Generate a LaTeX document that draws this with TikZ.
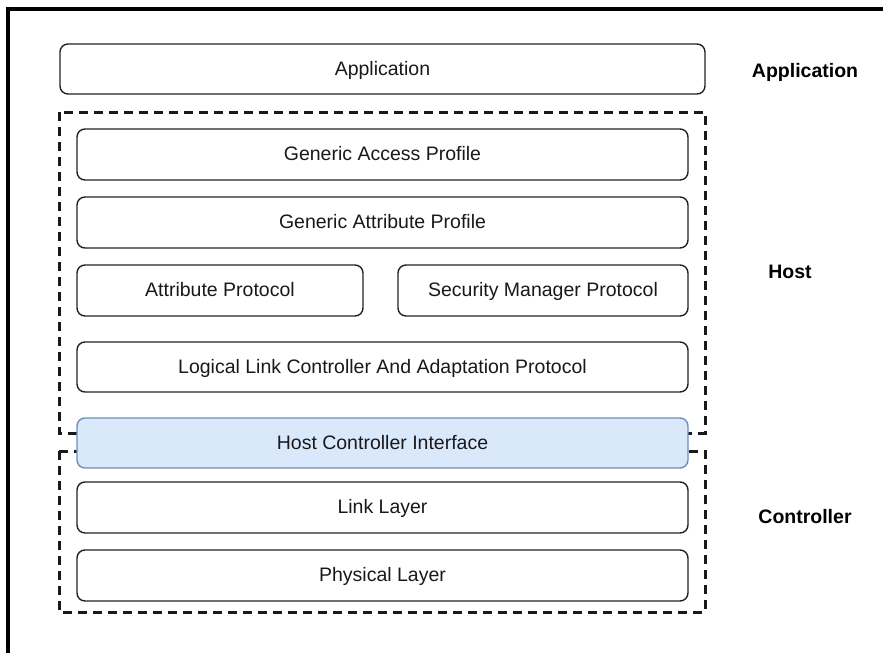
\documentclass[tikz,border=0pt]{standalone}
\usepackage{fontspec}
\setmainfont{Liberation Sans}
\definecolor{hcifill}{HTML}{DAE8FC}
\definecolor{hciline}{HTML}{6C8EBF}
\definecolor{boxline}{HTML}{222222}
\begin{document}
\begin{tikzpicture}[x=1pt,y=-1pt,
  layer/.style={draw=boxline,line width=1.4pt,rounded corners=8pt,inner sep=0pt,
    font=\fontsize{19.5}{23}\selectfont,text=black!90,text height=1.2em,text depth=0pt},
  grp/.style={draw=black!90,line width=3pt,dash pattern=on 9pt off 6pt},
  side/.style={font=\fontsize{19.5}{23}\selectfont\bfseries,text=black,text height=1.2em,text depth=0pt}]
\useasboundingbox (0,0) rectangle (883,653);
\fill[white] (0,0) rectangle (883,653);
\draw[line width=3.2pt] (8,653) -- (8,9) -- (883,9);
% groups
\draw[grp] (59,112) rectangle (705,433);
\draw[grp] (59,451) rectangle (705,612);
% layers
\node[layer,minimum width=645pt,minimum height=50pt] (app) at (382.5,69) {Application};
\node[layer,minimum width=611pt,minimum height=51pt] (gap) at (382.5,154.5) {Generic Access Profile};
\node[layer,minimum width=611pt,minimum height=51pt] (gatt) at (382.5,222.5) {Generic Attribute Profile};
\node[layer,minimum width=286pt,minimum height=51pt] (att) at (220,290.5) {Attribute Protocol};
\node[layer,minimum width=290pt,minimum height=51pt] (smp) at (543,290.5) {Security Manager Protocol};
\node[layer,minimum width=611pt,minimum height=50pt] (l2cap) at (382.5,367) {Logical Link Controller And Adaptation Protocol};
\node[layer,draw=hciline,fill=hcifill,minimum width=611pt,minimum height=50pt] (hci) at (382.5,443) {Host Controller Interface};
\node[layer,minimum width=611pt,minimum height=51pt] (ll) at (382.5,507.5) {Link Layer};
\node[layer,minimum width=611pt,minimum height=51pt] (phy) at (382.5,575.5) {Physical Layer};
% side labels
\node[side] (lapp) at (805,71) {Application};
\node[side] (lhost) at (790,272) {Host};
\node[side] (lctrl) at (805,517) {Controller};
\end{tikzpicture}
\end{document}
